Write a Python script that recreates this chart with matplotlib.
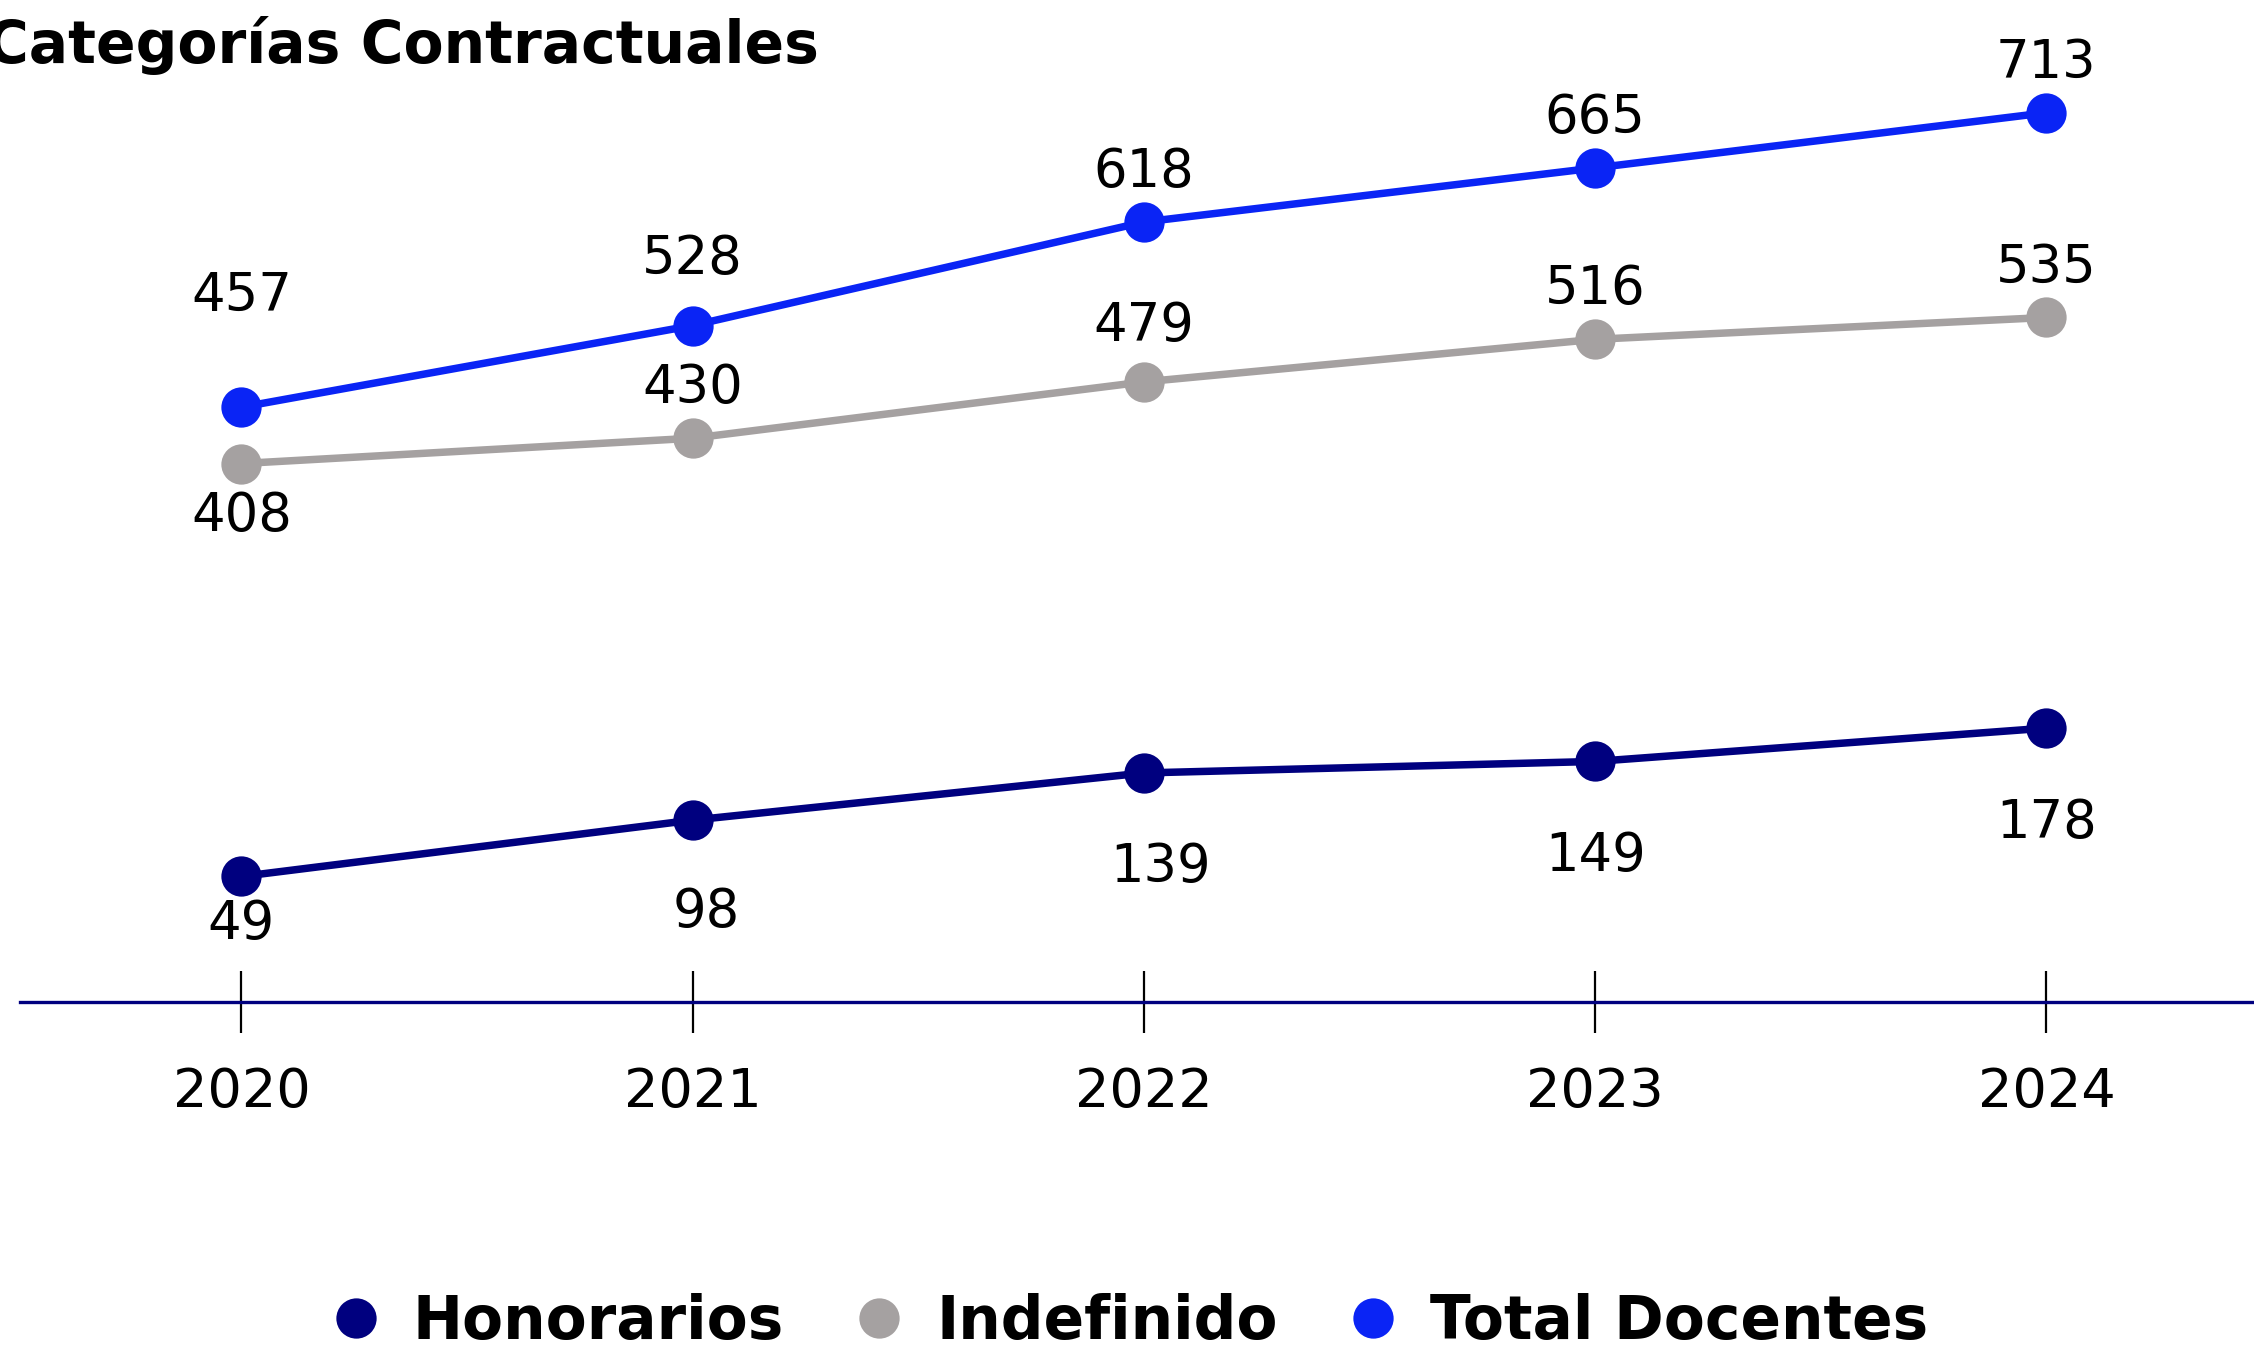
import matplotlib.pyplot as plt
from matplotlib.lines import Line2D

years = ['2020', '2021', '2022', '2023', '2024']
honorarios = [49, 98, 139, 149, 178]
indefinido = [408, 430, 479, 516, 535]
total_docentes = [457, 528, 618, 665, 713]

c_hon = '#00007f'
c_ind = '#a5a1a1'
c_tot = '#0a24f5'

plt.rcParams['font.family'] = ['DejaVu Sans']

fig = plt.figure(figsize=(11.27, 6.76), dpi=200)
ax = fig.add_axes([0.009, 0.259, 0.991, 0.741])

x = list(range(len(years)))

ax.plot(x, total_docentes, color=c_tot, lw=2.7, marker='o', ms=13.5, zorder=3)
ax.plot(x, indefinido, color=c_ind, lw=2.7, marker='o', ms=13.5, zorder=3)
ax.plot(x, honorarios, color=c_hon, lw=2.7, marker='o', ms=13.5, zorder=3)

# label offsets in points (dx, dy)
tot_off = [(0, 40), (0, 24), (0, 18), (0, 18), (0, 18)]
ind_off = [(0, -19), (0, 18), (0, 20), (0, 18), (0, 18)]
hon_off = [(0, -17), (5, -33), (6, -34), (0, -34), (0, -34)]

for series, offs in ((total_docentes, tot_off), (indefinido, ind_off), (honorarios, hon_off)):
    for xi, v, (dx, dy) in zip(x, series, offs):
        ax.annotate(str(v), (xi, v), xytext=(dx, dy), textcoords='offset points',
                    ha='center', va='center', fontsize=19, color='black')

ax.set_xlim(-0.49, 4.46)
ax.set_ylim(-60, 811)
ax.set_xticks(x)
ax.set_xticklabels(years, fontsize=19.5)
ax.tick_params(axis='x', direction='inout', length=22, width=0.8, color='black', pad=12)
ax.set_yticks([])
for s in ('top', 'right', 'left'):
    ax.spines[s].set_visible(False)
ax.spines['bottom'].set_color(c_hon)
ax.spines['bottom'].set_linewidth(1.2)

fig.text(-0.006, 0.966, 'Categorías Contractuales', fontsize=21, fontweight='bold',
         ha='left', va='center')

handles = [Line2D([], [], ls='none', marker='o', ms=13.5, color=c) for c in (c_hon, c_ind, c_tot)]
fig.legend(handles, ['Honorarios', 'Indefinido', 'Total Docentes'], loc='center',
           bbox_to_anchor=(0.5, 0.022), ncol=3, frameon=False, handlelength=1.0,
           handletextpad=0.45, columnspacing=1.1, prop={'weight': 'bold', 'size': 21.5})

fig.savefig('out.png', dpi=200)
